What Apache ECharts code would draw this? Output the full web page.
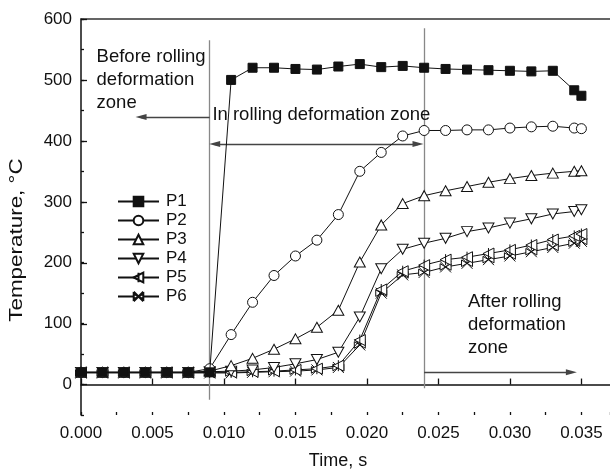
<!DOCTYPE html>
<html><head><meta charset="utf-8">
<script src="https://cdn.jsdelivr.net/npm/echarts@6/dist/echarts.min.js"></script>
<style>html,body{margin:0;padding:0;background:#fff}#c{width:610px;height:475px}</style>
</head><body><div id="c"></div>
<script>
// ---- data ----
const time = [0, 0.0015, 0.003, 0.0045, 0.006, 0.0075, 0.009, 0.0105, 0.012, 0.0135, 0.015, 0.0165, 0.018,
              0.0195, 0.021, 0.0225, 0.024, 0.0255, 0.027, 0.0285, 0.030, 0.0315, 0.033, 0.0345, 0.035];
const P1 = [20, 20, 20, 20, 20, 20, 20, 500, 520, 520, 518, 517, 522, 526, 521, 523, 520, 518, 517, 516, 515, 514, 515, 483, 474];
const P2 = [20, 20, 20, 20, 20, 20, 26, 82, 135, 179, 211, 237, 279, 350, 381, 408, 417, 417, 418, 418, 421, 423, 424, 421, 420];
const P3 = [20, 20, 20, 20, 20, 20, 22, 31, 43, 58, 75, 94, 122, 201, 262, 297, 310, 318, 325, 332, 338, 343, 347, 350, 351];
const P4 = [20, 20, 20, 20, 20, 20, 21, 22, 24, 28, 34, 41, 53, 111, 190, 222, 232, 240, 251, 257, 265, 272, 280, 284, 287];
const P5 = [20, 20, 20, 20, 20, 20, 20, 20, 21, 22, 24, 26, 31, 73, 156, 186, 196, 205, 209, 215, 221, 229, 238, 244, 247];
const P6 = [19, 19, 19, 19, 19, 19, 19, 19, 20, 21, 22, 24, 28, 65, 150, 180, 184, 193, 199, 205, 211, 218, 225, 232, 235];
const seriesNames = ['P1', 'P2', 'P3', 'P4', 'P5', 'P6'];
const seriesValues = [P1, P2, P3, P4, P5, P6];

// axis ranges / ticks
const xRange = [0, 0.037];
const xMajor = 0.005, xMinor = 0.0025;
const yRange = [-50, 600];
const yMajor = 100, yMinor = 50;

// annotation geometry (data coordinates)
const zoneLineIn = [[0.009, -25], [0.009, 565]];
const zoneLineOut = [[0.024, -6], [0.024, 585]];
const arrowBefore = [[0.009, 439], [0.0042, 439]];
const arrowIn = [[0.00935, 395], [0.02357, 395]];
const arrowAfter = [[0.024, 20], [0.0343, 20]];
const textBefore = {pos: [0.00109, 538.6], text: 'Before rolling\ndeformation\nzone'};
const textIn = {pos: [0.00919, 442], text: 'In rolling deformation zone'};
const textAfter = {pos: [0.02707, 136], text: 'After rolling\ndeformation\nzone'};

// ---- styling ----
const FONT = '"Liberation Sans", Arial, Helvetica, sans-serif';
const INK = '#111';
const symbols = [
  {symbol: 'rect', size: 9, fill: INK, rotate: 0},
  {symbol: 'circle', size: 10, fill: '#fff', rotate: 0},
  {symbol: 'triangle', size: [11, 10], fill: '#fff', rotate: 0},
  {symbol: 'triangle', size: [11, 10], fill: '#fff', rotate: 180},
  {symbol: 'path://M0,5L10,0L10,10ZM5,0L5,10', size: 11, fill: '#fff', rotate: 0},
  {symbol: 'path://M0,0L10,10M10,0L0,10M0,2L5,5L0,8ZM10,2L5,5L10,8Z', size: 11, fill: '#fff', rotate: 0}
];

const series = seriesNames.map((name, i) => ({
  name, type: 'line', xAxisIndex: 0, yAxisIndex: 0,
  data: time.map((t, k) => [t, seriesValues[i][k]]),
  symbol: symbols[i].symbol, symbolSize: symbols[i].size, symbolRotate: symbols[i].rotate,
  showAllSymbol: true,
  lineStyle: {color: INK, width: 1},
  itemStyle: {color: symbols[i].fill, borderColor: INK, borderWidth: 1},
  z: 10 - i, animation: false
}));

function seg(pts, endSym, color) {
  return [
    {coord: pts[0], symbol: endSym[0], lineStyle: {color, width: 1.3, type: 'solid'}},
    {coord: pts[1], symbol: endSym[1]}
  ];
}
series.push({
  name: 'annot', type: 'line', xAxisIndex: 0, yAxisIndex: 0, data: [], animation: false,
  markLine: {
    silent: true, animation: false, precision: 6,
    symbolSize: [6, 11],
    label: {show: false},
    data: [
      seg(zoneLineIn, ['none', 'none'], '#888'),
      seg(zoneLineOut, ['none', 'none'], '#888'),
      seg(arrowBefore, ['none', 'triangle'], '#444'),
      seg(arrowIn, ['triangle', 'triangle'], '#444'),
      seg(arrowAfter, ['none', 'triangle'], '#444')
    ]
  }
});

const chart = echarts.init(document.getElementById('c'), null, {renderer: 'canvas'});
chart.setOption({
  backgroundColor: '#fff',
  animation: false,
  textStyle: {fontFamily: FONT},
  grid: [
    {left: 81, top: 19, width: 530, height: 396},
    {left: 81, top: 19, width: 530, height: 365.7}
  ],
  xAxis: [
    {gridIndex: 0, type: 'value', position: 'bottom', min: xRange[0], max: xRange[1], interval: xMajor,
     axisLine: {show: true, lineStyle: {color: INK, width: 1.5}},
     axisTick: {show: true, inside: true, length: 6, lineStyle: {color: INK, width: 1.3}},
     axisLabel: {show: true, fontSize: 17, color: INK, fontFamily: FONT, margin: 10, showMaxLabel: false,
                 formatter: v => v.toFixed(3)},
     splitLine: {show: false}},
    {gridIndex: 0, type: 'value', position: 'bottom', min: xRange[0], max: xRange[1], interval: xMinor,
     axisLine: {show: false},
     axisTick: {show: true, inside: true, length: 3, lineStyle: {color: INK, width: 1.3}},
     axisLabel: {show: false}, splitLine: {show: false}},
    {gridIndex: 0, type: 'value', position: 'top', min: xRange[0], max: xRange[1],
     axisLine: {show: true, lineStyle: {color: '#333', width: 1.5}},
     axisTick: {show: false}, axisLabel: {show: false}, splitLine: {show: false}},
    {gridIndex: 1, type: 'value', show: false, min: xRange[0], max: xRange[1]}
  ],
  yAxis: [
    {gridIndex: 0, type: 'value', min: yRange[0], max: yRange[1], interval: yMinor,
     axisLine: {show: true, lineStyle: {color: INK, width: 1.5}},
     axisTick: {show: true, inside: true, length: 3, lineStyle: {color: INK, width: 1.3}},
     axisLabel: {show: false}, splitLine: {show: false}},
    {gridIndex: 1, type: 'value', min: 0, max: yRange[1], interval: yMajor,
     axisLine: {show: false},
     axisTick: {show: true, inside: true, length: 6, lineStyle: {color: INK, width: 1.3}},
     axisLabel: {show: true, fontSize: 17, color: INK, fontFamily: FONT, margin: 9},
     splitLine: {show: false}}
  ],
  legend: {
    orient: 'vertical', left: 117, top: 192, padding: 0, itemGap: 0,
    itemWidth: 41, itemHeight: 12,
    data: seriesNames,
    textStyle: {fontSize: 17, lineHeight: 19, color: INK, fontFamily: FONT, padding: [0, 0, 0, 2]}
  },
  series
});

function px(p) { return chart.convertToPixel({xAxisIndex: 0, yAxisIndex: 0}, p); }
const LH = 23, AF = 18.5;
function annText(a) {
  const p = px(a.pos);
  return {type: 'text', x: p[0], y: p[1] - LH / 2, silent: true,
          style: {text: a.text, fontSize: AF, lineHeight: LH, fill: INK, fontFamily: FONT,
                  align: 'left', verticalAlign: 'top'}};
}
chart.setOption({
  graphic: [
    annText(textBefore),
    Object.assign(annText(textIn), {z: 100}),
    annText(textAfter),
    {type: 'text', x: 338, y: 461, silent: true,
     style: {text: 'Time, s', fontSize: 18, fill: INK, fontFamily: FONT, align: 'center', verticalAlign: 'middle'}},
    {type: 'text', x: 17, y: 240, rotation: Math.PI / 2, scaleX: 1.18, silent: true,
     style: {text: 'Temperature, °C', fontSize: 19, fill: INK, fontFamily: FONT, align: 'center', verticalAlign: 'middle'}}
  ]
});
</script></body></html>
